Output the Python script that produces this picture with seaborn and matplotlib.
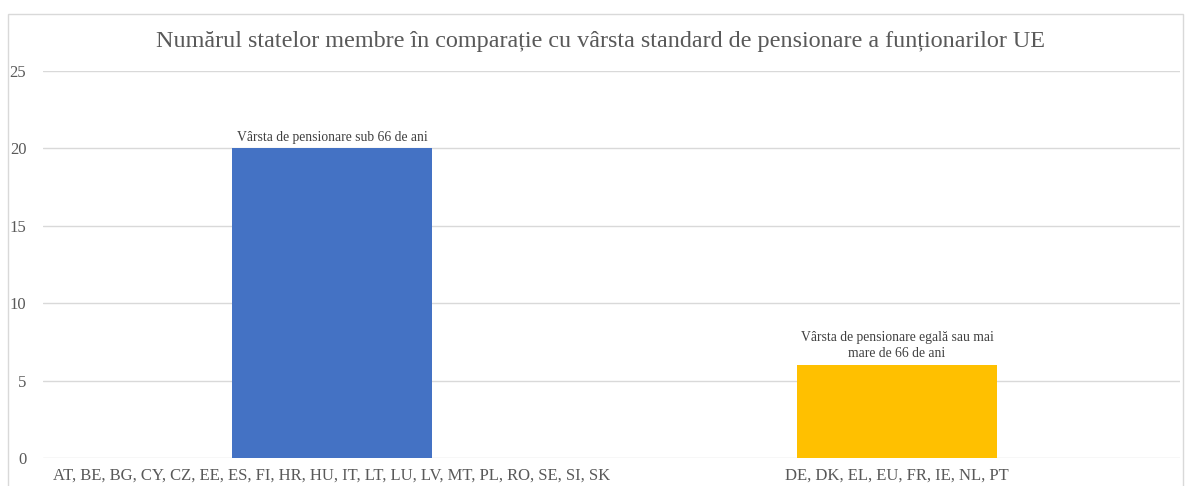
import pandas as pd
import matplotlib.pyplot as plt
import seaborn as sns
from matplotlib.patches import Rectangle

# date
grupe = ['AT, BE, BG, CY, CZ, EE, ES, FI, HR, HU, IT, LT, LU, LV, MT, PL, RO, SE, SI, SK',
         'DE, DK, EL, EU, FR, IE, NL, PT']
numar_state = [20, 6]
etichete = ['Vârsta de pensionare sub 66 de ani',
            'Vârsta de pensionare egală sau mai\nmare de 66 de ani']
culori = ['#4472C4', '#FFC000']

df = pd.DataFrame({'grupa': grupe, 'numar': numar_state})

sns.set_theme(style='white')
plt.rcParams['font.family'] = ['Liberation Serif', 'DejaVu Serif']
text_color = '#595959'

fig = plt.figure(figsize=(11.86, 4.86), dpi=100)
ax = fig.add_axes([43 / 1186, 1 - 458 / 486, 1137 / 1186, (458 - 71) / 486])

# chenarul graficului
fig.patches.append(Rectangle((8 / 1186, -0.1), (1183 - 8) / 1186, 1.1 - 14 / 486,
                             transform=fig.transFigure, fill=False,
                             edgecolor='#d9d9d9', linewidth=1))

sns.barplot(data=df, x='grupa', y='numar', hue='grupa', palette=culori,
            width=200 / 565, legend=False, ax=ax, zorder=2, saturation=1,
            edgecolor='none')

ax.set_ylim(0, 25)
ax.set_xlim(-0.5115, 1.5009)
ax.set_yticks([0, 5, 10, 15, 20, 25])
ax.yaxis.grid(True, color='#d9d9d9', linewidth=1, zorder=0)
ax.xaxis.grid(False)
for s in ax.spines.values():
    s.set_visible(False)
ax.tick_params(axis='both', length=0, labelsize=12, colors=text_color)
ax.tick_params(axis='y', pad=12)
ax.tick_params(axis='x', pad=7)
ax.set_xlabel('')
ax.set_ylabel('')

# etichetele de deasupra barelor
for i, (v, txt, dy) in enumerate(zip(numar_state, etichete, [3, 4])):
    ax.annotate(txt, (i, v), xytext=(0, dy), textcoords='offset points',
                ha='center', va='bottom', fontsize=9.8, color='#404040',
                linespacing=1.3)

fig.text(600 / 1186, 1 - 42 / 486, 'Numărul statelor membre în comparație cu vârsta standard de pensionare a funționarilor UE',
         ha='center', va='center', fontsize=17.4, color=text_color)

fig.savefig('out.png', dpi=100)
